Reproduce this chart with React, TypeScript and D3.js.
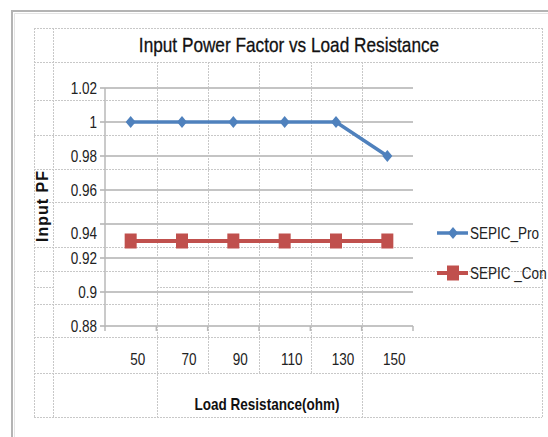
import { useRef, useEffect } from 'react'
import * as d3 from 'd3'

const categories = ['50', '70', '90', '110', '130', '150']
const sepicPro = [1, 1, 1, 1, 1, 0.98]
const sepicCon = [0.93, 0.93, 0.93, 0.93, 0.93, 0.93]
const yTicks = [0.88, 0.9, 0.92, 0.94, 0.96, 0.98, 1, 1.02]
const seriesNames = ['SEPIC_Pro', 'SEPIC _Con']

const width = 548
const height = 437
const plot = { left: 105, right: 413, top: 88, bottom: 326 }
const font = "'Liberation Sans', Arial, sans-serif"
const squeeze = 0.82 // fake a narrow face, the original is a condensed font
const blue = '#4f81bd'
const red = '#c0504d'
const gridColor = '#c4c4c4'

// spreadsheet cells showing behind the chart
const sheetRows = [28, 62, 100, 135, 169, 202, 247, 271, 304, 337, 373, 417]
const sheetCols = [
  { x: 34, y1: 28, y2: 417 },
  { x: 53, y1: 28, y2: 417 },
  { x: 157, y1: 62, y2: 417 },
  { x: 208, y1: 62, y2: 373 },
  { x: 259, y1: 62, y2: 373 },
  { x: 311, y1: 62, y2: 373 },
  { x: 362, y1: 62, y2: 417 },
  { x: 542, y1: 28, y2: 417 },
]

const diamond = 'M0,-6L5,0L0,6L-5,0Z'

const at = (x, y) => `translate(${x},${y}) scale(${squeeze},1)`

function drawSheet(svg) {
  const g = svg.select('.sheet')
  g.selectAll('*').remove()
  g.append('rect').attr('width', width).attr('height', height).attr('fill', '#fff')
  g.selectAll('.row')
    .data(sheetRows)
    .enter()
    .append('line')
    .attr('x1', 34)
    .attr('x2', 542)
    .attr('y1', (d) => d + 0.5)
    .attr('y2', (d) => d + 0.5)
  g.selectAll('.col')
    .data(sheetCols)
    .enter()
    .append('line')
    .attr('x1', (d) => d.x + 0.5)
    .attr('x2', (d) => d.x + 0.5)
    .attr('y1', (d) => d.y1)
    .attr('y2', (d) => d.y2)
  g.append('line').attr('x1', 34).attr('x2', 53).attr('y1', 287.5).attr('y2', 287.5)
  g.append('line').attr('x1', 157).attr('x2', 542).attr('y1', 287.5).attr('y2', 287.5)
  g.selectAll('line').attr('stroke', '#c8c8c8').attr('stroke-dasharray', '2,1').attr('stroke-width', 1)

  // chart frame
  g.append('path')
    .attr('d', `M12,${height}V11H${width}`)
    .attr('fill', 'none')
    .attr('stroke', '#b4b4b4')
    .attr('stroke-width', 2)
  g.append('path')
    .attr('d', `M14.5,${height}V13.5H${width}`)
    .attr('fill', 'none')
    .attr('stroke', '#e4e4e4')
    .attr('stroke-width', 1)
}

function drawChart(svg) {
  const g = svg.select('.chart')
  g.selectAll('*').remove()

  const x = d3.scaleBand().domain(categories).range([plot.left, plot.right])
  const y = d3.scaleLinear().domain([0.88, 1.02]).range([plot.bottom, plot.top])

  // gridlines
  g.selectAll('.grid')
    .data(yTicks)
    .enter()
    .append('line')
    .attr('x1', plot.left - 5)
    .attr('x2', plot.right)
    .attr('y1', (d) => y(d))
    .attr('y2', (d) => y(d))
    .attr('stroke', gridColor)
    .attr('stroke-width', 2)

  g.append('line')
    .attr('x1', plot.left)
    .attr('x2', plot.left)
    .attr('y1', plot.top)
    .attr('y2', plot.bottom + 1)
    .attr('stroke', '#b8b8b8')
    .attr('stroke-width', 1.5)

  // x ticks at band edges
  const edges = categories.map((c) => x(c) + x.bandwidth()).concat([plot.left])
  g.selectAll('.xtick')
    .data(edges)
    .enter()
    .append('line')
    .attr('x1', (d) => d)
    .attr('x2', (d) => d)
    .attr('y1', plot.bottom)
    .attr('y2', plot.bottom + 5)
    .attr('stroke', '#b8b8b8')
    .attr('stroke-width', 1.5)

  // y labels
  g.selectAll('.ylabel')
    .data(yTicks)
    .enter()
    .append('text')
    .attr('transform', (d) => at(plot.left - 8, y(d) + (d === 0.94 ? 9 : 0)))
    .attr('dy', '0.35em')
    .attr('text-anchor', 'end')
    .attr('font-family', font)
    .attr('font-size', 16.5)
    .attr('fill', '#222')
    .text((d) => d3.format('')(d))

  // x labels
  g.selectAll('.xlabel')
    .data(categories)
    .enter()
    .append('text')
    .attr('transform', (d) => at(x(d) + x.bandwidth() / 2 + 7, 359))
    .attr('dy', '0.35em')
    .attr('text-anchor', 'middle')
    .attr('font-family', font)
    .attr('font-size', 16.5)
    .attr('fill', '#222')
    .text((d) => d)

  const cx = (i) => x(categories[i]) + x.bandwidth() / 2
  const line = d3
    .line()
    .x((d, i) => cx(i))
    .y((d) => y(d))

  g.append('path').attr('d', line(sepicCon)).attr('fill', 'none').attr('stroke', red).attr('stroke-width', 4)
  g.selectAll('.con')
    .data(sepicCon)
    .enter()
    .append('rect')
    .attr('x', (d, i) => cx(i) - 6)
    .attr('y', (d) => y(d) - 7.5)
    .attr('width', 12)
    .attr('height', 15)
    .attr('fill', red)

  g.append('path').attr('d', line(sepicPro)).attr('fill', 'none').attr('stroke', blue).attr('stroke-width', 3.5)
  g.selectAll('.pro')
    .data(sepicPro)
    .enter()
    .append('path')
    .attr('d', diamond)
    .attr('transform', (d, i) => `translate(${cx(i)},${y(d)})`)
    .attr('fill', blue)

  // titles
  g.append('text')
    .attr('transform', at(289, 52))
    .attr('text-anchor', 'middle')
    .attr('font-family', font)
    .attr('font-size', 21)
    .attr('fill', '#111')
    .attr('stroke', '#111')
    .attr('stroke-width', 0.3)
    .text('Input Power Factor vs Load Resistance')

  g.append('text')
    .attr('transform', at(267, 404))
    .attr('dy', '0.35em')
    .attr('text-anchor', 'middle')
    .attr('font-family', font)
    .attr('font-weight', 'bold')
    .attr('font-size', 16.5)
    .attr('fill', '#111')
    .text('Load Resistance(ohm)')

  g.append('text')
    .attr('transform', 'translate(42,206) rotate(-90)')
    .attr('dy', '0.35em')
    .attr('text-anchor', 'middle')
    .attr('font-family', font)
    .attr('font-weight', 'bold')
    .attr('font-size', 16)
    .attr('letter-spacing', 1)
    .attr('fill', '#111')
    .text('Input PF')

  // legend
  const legendY = [233, 273]
  const legend = g
    .selectAll('.legend')
    .data(seriesNames)
    .enter()
    .append('g')
    .attr('transform', (d, i) => `translate(437,${legendY[i]})`)
  legend
    .append('line')
    .attr('x1', 0)
    .attr('x2', 31)
    .attr('stroke', (d, i) => (i === 0 ? blue : red))
    .attr('stroke-width', (d, i) => (i === 0 ? 3.5 : 4))
  legend
    .append('path')
    .attr('d', (d, i) => (i === 0 ? diamond : 'M-6,-7.5H6V7.5H-6Z'))
    .attr('transform', 'translate(16,0)')
    .attr('fill', (d, i) => (i === 0 ? blue : red))
  legend
    .append('text')
    .attr('transform', at(33, 0))
    .attr('dy', '0.35em')
    .attr('font-family', font)
    .attr('font-size', 16.5)
    .attr('fill', '#222')
    .text((d) => d)
}

export default function App() {
  const ref = useRef(null)

  useEffect(() => {
    const svg = d3.select(ref.current)
    drawSheet(svg)
    drawChart(svg)
  }, [])

  return (
    <svg ref={ref} width={width} height={height} style={{ position: 'absolute', left: 0, top: 0 }}>
      <g className="sheet" />
      <g className="chart" />
    </svg>
  )
}
